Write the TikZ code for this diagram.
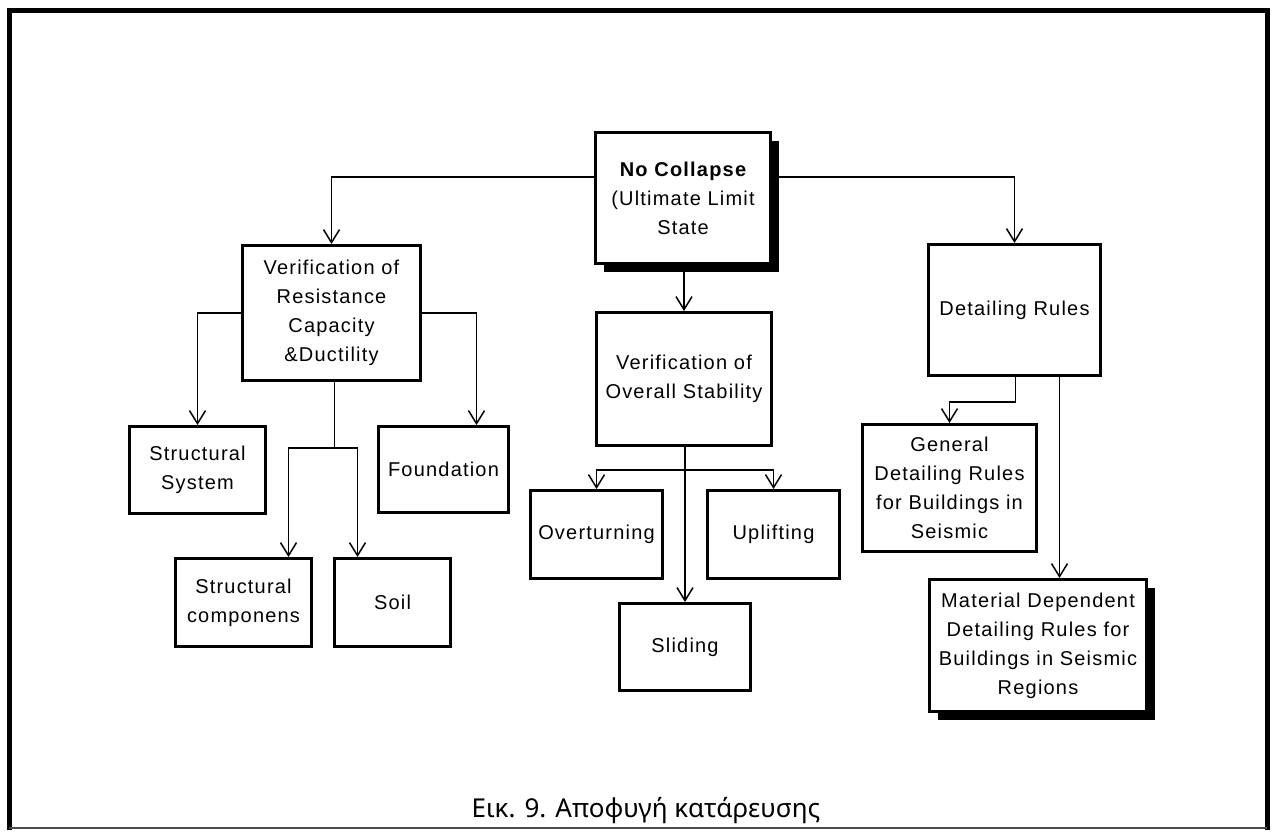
\documentclass[tikz,border=0pt]{standalone}
\usepackage{fontspec}
\usetikzlibrary{arrows.meta,shadows}
\newfontfamily\boxfont{Liberation Sans}[LetterSpace=6]
\newfontfamily\capfont{Noto Sans}

\tikzset{
  x=1pt, y=-1pt,
  box/.style={draw, line width=3pt, fill=white, rectangle, inner sep=0pt,
    align=center, font=\boxfont\fontsize{20}{29}\selectfont},
  shadowed/.style={drop shadow={shadow xshift=8pt, shadow yshift=-8pt,
    opacity=1, fill=black}},
  arr/.style={line width=1.5pt, -{Straight Barb[length=13pt,width=16pt]}},
  link/.style={line width=1.5pt},
}

\begin{document}
\begin{tikzpicture}
\useasboundingbox (0,0) rectangle (1272,831);

% outer frame
\draw[line width=5pt] (9,830) -- (9,10) -- (1267,10) -- (1267,830);
\draw[line width=1.5pt, black!70] (9,828) -- (1267,828);

% top node
\node[box, shadowed, minimum width=175pt, minimum height=131pt] (nc) at (683,198)
  {{\bfseries No Collapse}\\(Ultimate Limit\\State};

% first level
\node[box, minimum width=178pt, minimum height=135pt] (vr) at (331.5,313)
  {Verification of\\Resistance\\Capacity\\\&Ductility};
\node[box, minimum width=175pt, minimum height=133pt] (vo) at (684,379)
  {Verification of\\Overall Stability};
\node[box, minimum width=172pt, minimum height=131pt] (dr) at (1014.5,310)
  {Detailing Rules};

% resistance branch
\node[box, minimum width=136pt, minimum height=87pt] (ss) at (197.5,470)
  {Structural\\System};
\node[box, minimum width=130pt, minimum height=86pt] (fd) at (443.5,469.5)
  {Foundation};
\node[box, minimum width=136pt, minimum height=88pt] (sc) at (243.5,602.5)
  {Structural\\componens};
\node[box, minimum width=116pt, minimum height=88pt] (so) at (392.5,602.5)
  {Soil};

% stability branch
\node[box, minimum width=132pt, minimum height=88pt] (ot) at (596.5,534.5)
  {Overturning};
\node[box, minimum width=132pt, minimum height=88pt] (up) at (773.5,534.5)
  {Uplifting};
\node[box, minimum width=131pt, minimum height=87pt] (sl) at (685,647)
  {Sliding};

% detailing branch
\node[box, minimum width=174pt, minimum height=127pt] (gr) at (949.5,488)
  {General\\Detailing Rules\\for Buildings in\\Seismic};
\node[box, shadowed, minimum width=217pt, minimum height=132pt] (md) at (1038,645.5)
  {Material Dependent\\Detailing Rules for\\Buildings in Seismic\\Regions};

% connectors from the top node
\draw[arr] ([yshift=21pt]nc.west) -| (vr.north);
\draw[arr] ([yshift=21pt]nc.east) -| (dr.north);
\draw[arr] (nc.south -| vo.north) -- (vo.north);

% resistance branch connectors
\draw[arr] (vr.west) -| (ss.north);
\draw[arr] (vr.east) -| ([xshift=33pt]fd.north);
\draw[link] ([xshift=3pt]vr.south) -- ++(0,66) coordinate (j1);
\draw[arr] (j1) -| ([xshift=45pt]sc.north);
\draw[arr] (j1) -| ([xshift=-35pt]so.north);

% stability branch connectors
\draw[arr] (vo.south -| sl.north) -- (sl.north);
\coordinate (j2) at ([yshift=-23pt]vo.south -| sl.north);
\draw[arr] (j2) -| (ot.north);
\draw[arr] (j2) -| (up.north);

% detailing branch connectors
\draw[arr] ([xshift=1pt]dr.south) -- ++(0,25) -| (gr.north);
\draw[arr] ([xshift=45pt]dr.south) -- ([xshift=45pt]dr.south |- md.north);

% caption
\node[anchor=base, inner sep=0pt, font=\capfont\fontsize{26}{30}\selectfont] (cap) at (646,817)
  {Εικ. 9. Αποφυγή κατάρευσης};
\end{tikzpicture}
\end{document}
